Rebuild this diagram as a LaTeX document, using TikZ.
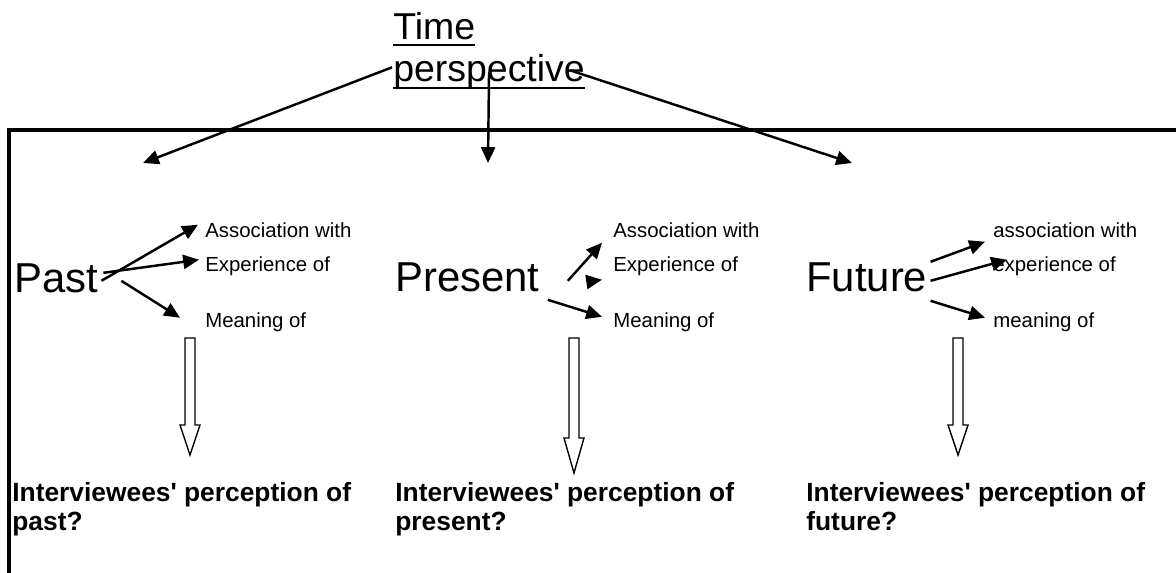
\documentclass[tikz,border=0pt]{standalone}
\usepackage{fontspec}
\setmainfont{Liberation Sans}
\usetikzlibrary{arrows.meta}
\begin{document}
\begin{tikzpicture}[x=0.02cm,y=-0.02cm,
  arr/.style={-{Triangle[length=9pt,width=8pt]},line width=1.4pt},
  heading/.style={inner sep=0pt,anchor=base west,font=\fontsize{21.3pt}{24pt}\selectfont},
  period/.style={inner sep=0pt,anchor=base west,font=\fontsize{23.8pt}{27pt}\selectfont},
  item/.style={inner sep=0pt,anchor=base west,font=\fontsize{11.6pt}{14pt}\selectfont},
  question/.style={inner sep=0pt,anchor=base west,font=\bfseries\fontsize{15pt}{18pt}\selectfont},
  hollow/.style={line width=0.8pt,fill=white}]
\useasboundingbox (0,0) rectangle (1176,573);
% frame
\draw[line width=2.3pt] (9,573) -- (9,130) -- (1176,130);
% title
\node[heading] (time) at (393,40) {Time};
\node[heading] (persp) at (393,82) {perspective};
\draw[line width=1.5pt] ([yshift=-2.8pt]time.base west) -- ([yshift=-2.8pt]time.base east);
\draw[line width=1.5pt] ([yshift=-3.4pt]persp.base west) -- ([yshift=-3.4pt]persp.base east);
\coordinate (tpast) at (143,163);
\coordinate (tpres) at (488,163);
\coordinate (tfut) at (852,163);
\draw[arr] ([shift={(-1,-5)}]persp.west) -- (tpast);
\draw[arr] (persp.center) -- (tpres);
\draw[arr] ([shift={(-15,-2)}]persp.east) -- (tfut);
% past
\node[period] (past) at (14,293) {Past};
\node[item] (pa1) at (205,238) {Association with};
\node[item] (pa2) at (205,272) {Experience of};
\node[item] (pa3) at (205,328) {Meaning of};
\draw[arr] ([shift={(3,2)}]past.east) -- ([shift={(-7,-6)}]pa1.west);
\draw[arr] ([shift={(5,-6)}]past.east) -- ([shift={(-6,-7)}]pa2.west);
\draw[arr] ([shift={(23,2)}]past.east) -- ([shift={(-25,-5)}]pa3.west);
% present
\node[period] (pres) at (395,292) {Present};
\node[item] (pr1) at (613,238) {Association with};
\node[item] (pr2) at (613,272) {Experience of};
\node[item] (pr3) at (613,328) {Meaning of};
\draw[arr] ([shift={(28,3)}]pres.east) -- ([shift={(-11,12)}]pr1.west);
\draw[arr] ([shift={(48,4)}]pres.east) -- ([shift={(-11,13)}]pr2.west);
\draw[arr] ([shift={(8,22)}]pres.east) -- ([shift={(-11,-6)}]pr3.west);
% future
\node[period] (fut) at (806,292) {Future};
\node[item] (fu1) at (993,238) {association with};
\node[item] (fu2) at (993,272) {experience of};
\node[item] (fu3) at (993,328) {meaning of};
\draw[arr] ([shift={(3,-16)}]fut.east) -- ([shift={(-8,11)}]fu1.west);
\draw[arr] ([shift={(3,3)}]fut.east) -- ([shift={(14,-7)}]fu2.west);
\draw[arr] ([shift={(3,23)}]fut.east) -- ([shift={(-8,-5)}]fu3.west);
% hollow arrows
\foreach \x/\b/\t in {190/425/455, 574/438/473, 958/425/455}
  \draw[hollow] (\x-5,338) -- (\x+5,338) -- (\x+5,\b) -- (\x+10,\b) -- (\x,\t)
    -- (\x-10,\b) -- (\x-5,\b) -- cycle;
% questions
\node[question] (q1) at (12,502) {Interviewees\textquotesingle{} perception of};
\node[question] (q1b) at (12,531) {past?};
\node[question] (q2) at (395,502) {Interviewees\textquotesingle{} perception of};
\node[question] (q2b) at (395,531) {present?};
\node[question] (q3) at (806,502) {Interviewees\textquotesingle{} perception of};
\node[question] (q3b) at (806,531) {future?};
\end{tikzpicture}
\end{document}
